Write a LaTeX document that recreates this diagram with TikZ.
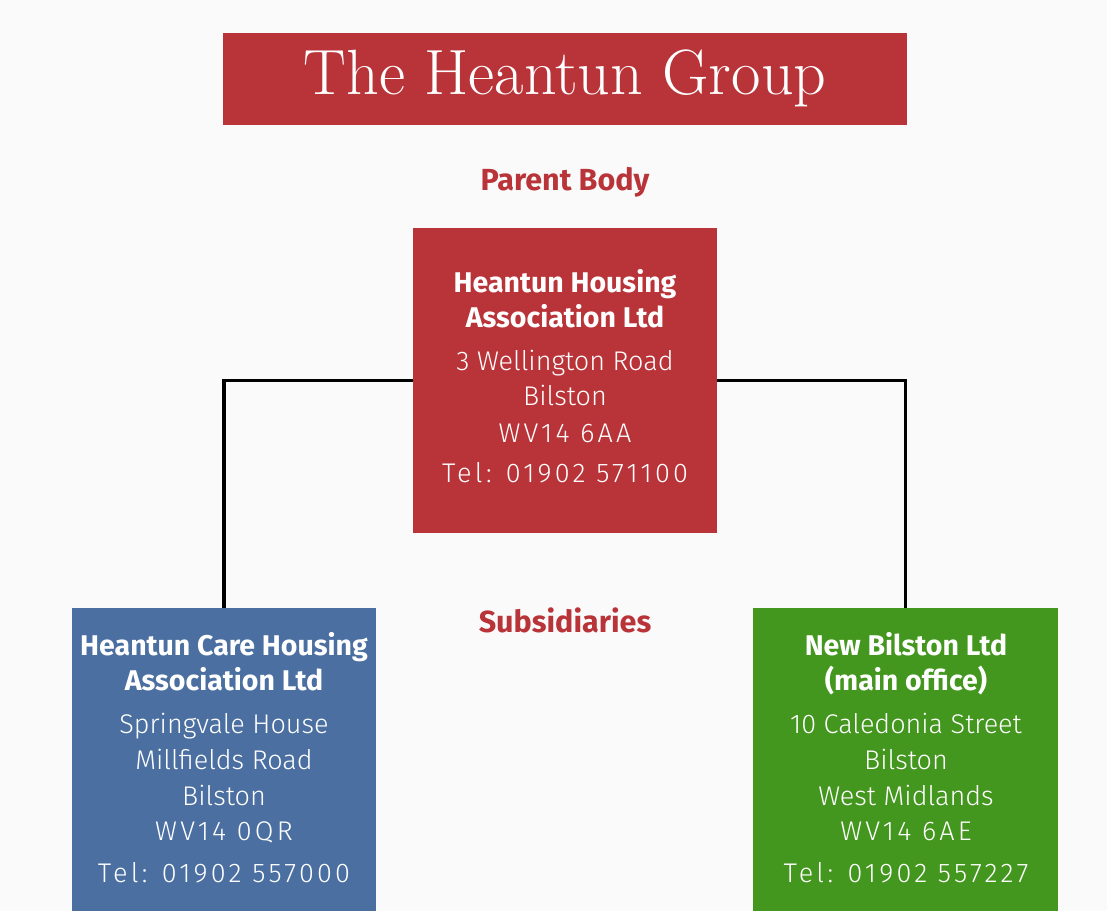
\documentclass[tikz,border=0pt]{standalone}
\usepackage{fontspec}
\newfontfamily\bsans{Fira Sans}
\newfontfamily\lsans{Fira Sans Light}
\newfontfamily\lsanswide{Fira Sans Light}[LetterSpace=12]
\definecolor{hred}{HTML}{B93439}
\definecolor{hblue}{HTML}{4A6FA0}
\definecolor{hgreen}{HTML}{43961E}
\definecolor{bg}{HTML}{FAFAFA}
\tikzset{
  box/.style={inner sep=0pt, outer sep=0pt, draw=none},
  head/.style={anchor=base, inner sep=0pt, text=white, font=\bsans\bfseries\fontsize{28.5}{32}\selectfont},
  addr/.style={anchor=base, inner sep=0pt, text=white, font=\lsans\fontsize{27}{30}\selectfont},
  addrw/.style={anchor=base, inner sep=0pt, text=white, font=\lsanswide\fontsize{27}{30}\selectfont},
  sect/.style={anchor=base, inner sep=0pt, text=hred, font=\bsans\bfseries\fontsize{30.5}{34}\selectfont},
  conn/.style={line width=3.3pt, black, line join=miter}
}
\begin{document}
\begin{tikzpicture}[x=1pt,y=-1pt]
\fill[bg] (0,0) rectangle (1107,911);
\useasboundingbox (0,0) rectangle (1107,911);
% title
\node[box, fill=hred, minimum width=684pt, minimum height=92pt] (T) at (565,79) {};
\node[anchor=base, inner sep=0pt, text=white, font=\fontsize{64}{68}\selectfont] (tt) at (565,94) {The Heantun Group};
% section labels
\node[sect] (pb) at (565,190) {Parent Body};
\node[sect] (sb) at (565,632) {Subsidiaries};
% boxes
\node[box, fill=hred, minimum width=304pt, minimum height=305pt] (P) at (565,380.5) {};
\node[box, fill=hblue, minimum width=304pt, minimum height=303pt] (L) at (224,759.5) {};
\node[box, fill=hgreen, minimum width=305pt, minimum height=303pt] (R) at (905.5,759.5) {};
% connectors
\draw[conn] (P.west) -| (L.north);
\draw[conn] (P.east) -| (R.north);
% parent text
\node[head] (p1) at (565,292) {Heantun Housing};
\node[head] (p2) at (565,327) {Association Ltd};
\node[addr] (p3) at (565,370) {3 Wellington Road};
\node[addr] (p4) at (565,405) {Bilston};
\node[addrw] (p5) at (565,442) {WV14 6AA};
\node[addrw] (p6) at (565,482) {Tel: 01902 571100};
% left text
\node[head] (l1) at (224,655) {Heantun Care Housing};
\node[head] (l2) at (224,690) {Association Ltd};
\node[addr] (l3) at (224,733) {Springvale House};
\node[addr] (l4) at (224,769) {Millfields Road};
\node[addr] (l5) at (224,805) {Bilston};
\node[addrw] (l6) at (224,840) {WV14 0QR};
\node[addrw] (l7) at (224,882) {Tel: 01902 557000};
% right text
\node[head] (r1) at (906,655) {New Bilston Ltd};
\node[head] (r2) at (906,690) {(main office)};
\node[addr] (r3) at (906,733) {10 Caledonia Street};
\node[addr] (r4) at (906,769) {Bilston};
\node[addr] (r5) at (906,805) {West Midlands};
\node[addrw] (r6) at (906,840) {WV14 6AE};
\node[addrw] (r7) at (906,882) {Tel: 01902 557227};
\end{tikzpicture}
\end{document}
